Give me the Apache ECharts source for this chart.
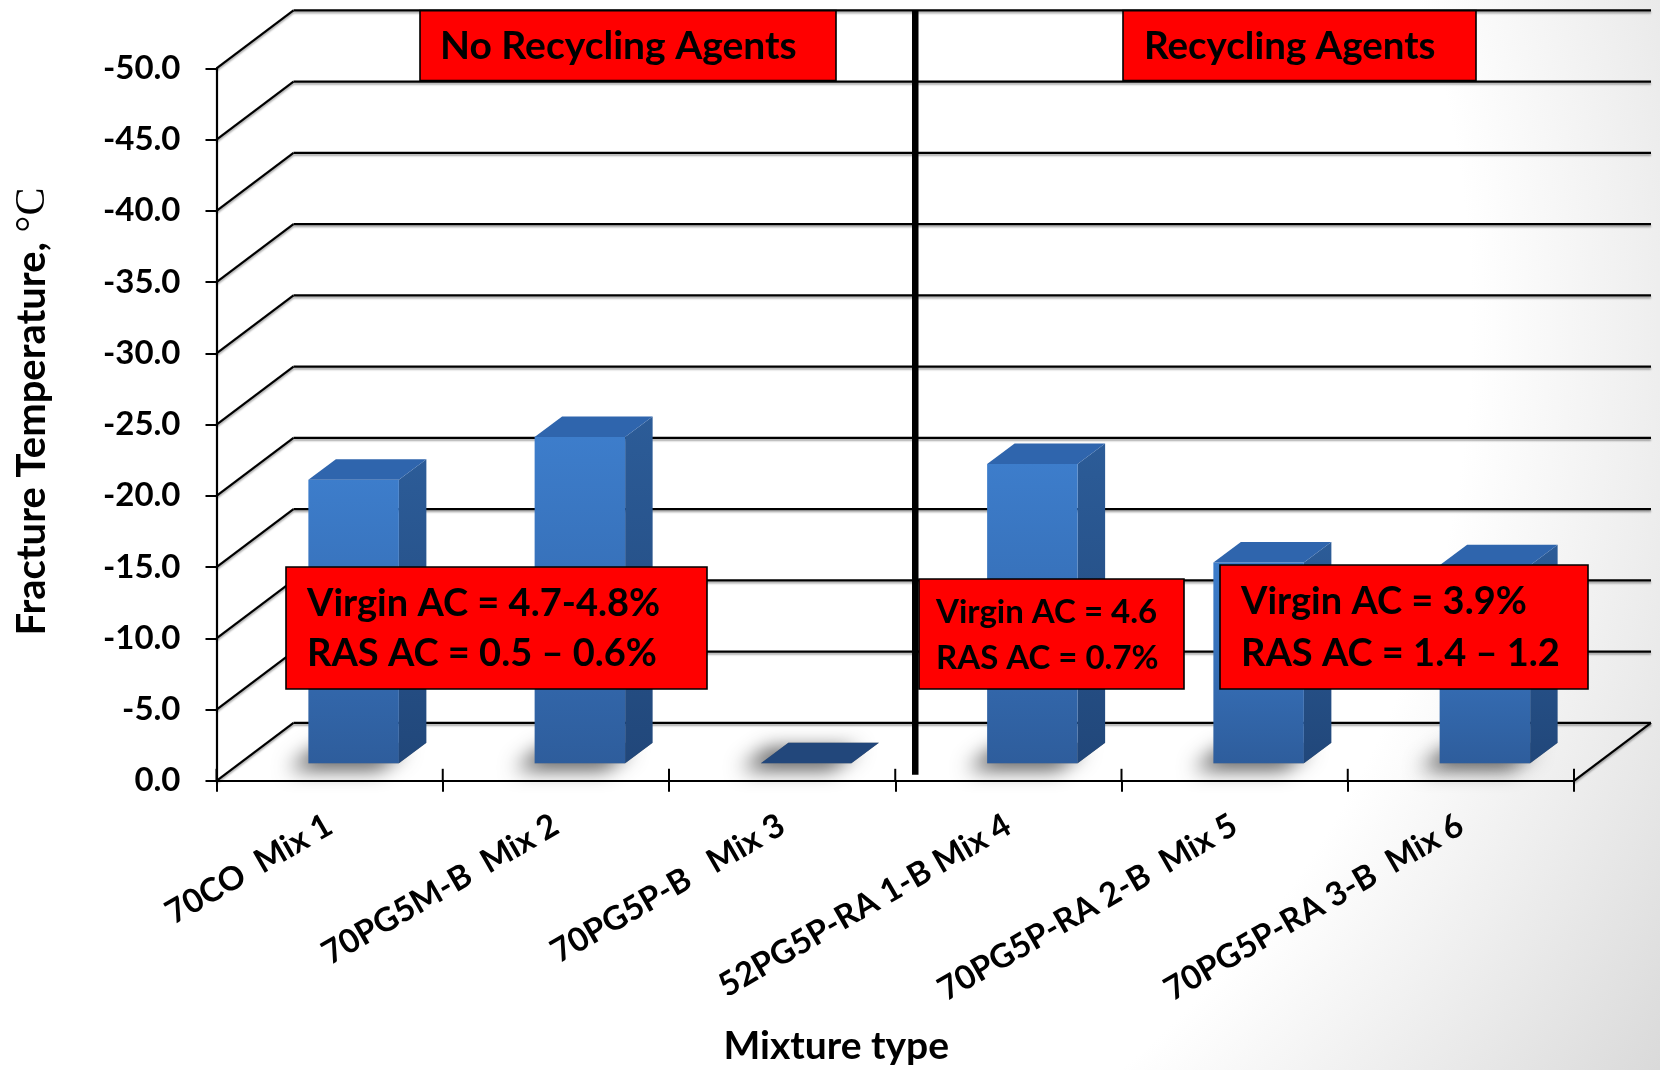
<!DOCTYPE html>
<html>
<head>
<meta charset="utf-8">
<script src="https://cdn.jsdelivr.net/npm/echarts@6/dist/echarts.min.js"></script>
<style>
  html, body { margin: 0; padding: 0; }
  #chart { width: 1660px; height: 1070px; }
</style>
</head>
<body>
<div id="chart"></div>
<script>
// Mixtures tested and their fracture temperatures (°C)
const categories = [
  '70CO  Mix 1',
  '70PG5M-B  Mix 2',
  '70PG5P-B   Mix 3',
  '52PG5P-RA 1-B Mix 4',
  '70PG5P-RA 2-B  Mix 5',
  '70PG5P-RA 3-B  Mix 6'
];
const fractureTemp = [-19.9, -22.9, 0, -21.0, -14.1, -13.9];

// Value axis ticks (also used for the wall grid lines)
const tickValues = [0, -5, -10, -15, -20, -25, -30, -35, -40, -45, -50];

// Group headers and binder-content notes
const groupLabels = ['No Recycling Agents', 'Recycling Agents'];
const noteMix12 = ['Virgin AC = 4.7-4.8%', 'RAS AC = 0.5 \u2013 0.6%'];
const noteMix4 = ['Virgin AC = 4.6', 'RAS AC = 0.7%'];
const noteMix56 = ['Virgin AC = 3.9%', 'RAS AC = 1.4 \u2013 1.2'];

// Oblique projection of the chart box
const WALL_DX = 77, WALL_DY = -58;     // back wall offset
const BAR_DX = 24, BAR_DY = -17.5;     // bar front face offset
const BAR_DEPTH_X = 27.5, BAR_DEPTH_Y = -20.5;
const BAR_FRAC = 0.4;

const FONT = 'Lato, "Open Sans", sans-serif';
const lineStyle = { stroke: '#000', lineWidth: 2.2, shadowColor: 'rgba(0,0,0,0.35)', shadowOffsetY: 2, shadowBlur: 2 };

const chart = echarts.init(document.getElementById('chart'), null, { renderer: 'canvas' });

function wallItem(params, api) {
  const cs = params.coordSys;
  const v = api.value(1);
  const y = api.coord([0, v])[1];
  const xl = cs.x, xr = cs.x + cs.width;
  const children = [
    { type: 'line', shape: { x1: xl, y1: y, x2: xl + WALL_DX, y2: y + WALL_DY }, style: lineStyle },
    { type: 'line', shape: { x1: xl + WALL_DX, y1: y + WALL_DY, x2: xr + WALL_DX, y2: y + WALL_DY }, style: lineStyle }
  ];
  if (v === 0) {
    // right edge of the floor
    children.push({ type: 'line', shape: { x1: xr, y1: y, x2: xr + WALL_DX, y2: y + WALL_DY }, style: lineStyle });
    // inner half of the category ticks
    const n = categories.length;
    for (let i = 0; i <= n; i++) {
      const x = xl + cs.width * i / n;
      children.push({ type: 'line', shape: { x1: x, y1: y, x2: x, y2: y - 12 }, style: { stroke: '#000', lineWidth: 2 } });
    }
  }
  return { type: 'group', children };
}

function barItem(params, api) {
  const idx = api.value(0);
  const val = api.value(1);
  const base = api.coord([idx, 0]);
  const top = api.coord([idx, val]);
  const bw = api.size([1, 0])[0] * BAR_FRAC;
  const x0 = base[0] - bw / 2 + BAR_DX;
  const x1 = x0 + bw;
  const yb = base[1] + BAR_DY;
  const yt = top[1] + BAR_DY;
  const dx = BAR_DEPTH_X, dy = BAR_DEPTH_Y;
  const footprint = [[x0, yb], [x1, yb], [x1 + dx, yb + dy], [x0 + dx, yb + dy]];
  const children = [];
  // soft floor shadow: the footprint itself is hidden behind the bar, only its blur shows
  children.push({
    type: 'polygon',
    shape: { points: footprint },
    style: { fill: '#777', shadowColor: 'rgba(0,0,0,0.7)', shadowBlur: 20, shadowOffsetX: -20, shadowOffsetY: 6 }
  });
  if (yb - yt > 0.5) {
    children.push({
      type: 'polygon',
      shape: { points: [[x1, yt], [x1 + dx, yt + dy], [x1 + dx, yb + dy], [x1, yb]] },
      style: { fill: { type: 'linear', x: 0, y: 0, x2: 0, y2: 1, colorStops: [{ offset: 0, color: '#2c5c98' }, { offset: 1, color: '#21477a' }] } }
    });
    children.push({
      type: 'rect',
      shape: { x: x0, y: yt, width: bw, height: yb - yt },
      style: { fill: { type: 'linear', x: 0, y: 0, x2: 0, y2: 1, colorStops: [{ offset: 0, color: '#3d7dcb' }, { offset: 0.5, color: '#366fb7' }, { offset: 1, color: '#2e5d9c' }] } }
    });
    children.push({
      type: 'polygon',
      shape: { points: [[x0, yt], [x0 + dx, yt + dy], [x1 + dx, yt + dy], [x1, yt]] },
      style: { fill: '#2f65ad' }
    });
  } else {
    children.push({
      type: 'polygon',
      shape: { points: [[x0, yt], [x0 + dx, yt + dy], [x1 + dx, yt + dy], [x1, yt]] },
      style: { fill: '#22477b' }
    });
  }
  return { type: 'group', children };
}

function dividerItem(params, api) {
  const idx = api.value(0);
  const topPt = api.coord([idx, -50]);
  const basePt = api.coord([idx, 0]);
  const bw = api.size([1, 0])[0];
  const x = topPt[0] + bw / 2 + 20;
  return {
    type: 'line',
    shape: { x1: x, y1: topPt[1] + WALL_DY, x2: x, y2: basePt[1] - 6 },
    style: { stroke: '#000', lineWidth: 6.5 }
  };
}

function noteBox(x, y, w, h, lines, size, lh, tx) {
  return [
    { type: 'rect', z: 100, shape: { x: x, y: y, width: w, height: h }, style: { fill: '#ff0000', stroke: '#000', lineWidth: 1.6 } },
    { type: 'text', z: 101, x: tx, y: y + h / 2 + 1, style: { text: lines.join('\n'), font: 'bold ' + size + 'px ' + FONT, fill: '#000', lineHeight: lh, textAlign: 'left', textVerticalAlign: 'middle' } }
  ];
}

const option = {
  backgroundColor: {
    type: 'radial', x: 0.3, y: 0.3, r: 1.3,
    colorStops: [{ offset: 0, color: '#ffffff' }, { offset: 0.7, color: '#ffffff' }, { offset: 1, color: '#d9d9d9' }]
  },
  animation: false,
  grid: { left: 216.5, top: 68.3, width: 1357.5, height: 712.5, containLabel: false, outerBoundsMode: 'none' },
  xAxis: {
    type: 'category',
    data: categories,
    name: 'Mixture type',
    nameLocation: 'middle',
    nameGap: 246,
    nameTextStyle: { fontFamily: FONT, fontWeight: 'bold', fontSize: 39, color: '#000', padding: [0, 118, 0, 0] },
    axisLine: { lineStyle: { color: '#000', width: 2.2 } },
    axisTick: { show: true, length: 11, lineStyle: { color: '#000', width: 2 } },
    axisLabel: { interval: 0, rotate: 30, margin: 42, fontFamily: FONT, fontWeight: 'bold', fontSize: 33, color: '#000' },
    splitLine: { show: false }
  },
  yAxis: {
    type: 'value',
    min: -50, max: 0, interval: 5,
    inverse: true,
    name: '{a|Fracture Temperature, }{b|\u00B0C}',
    nameLocation: 'middle',
    nameGap: 163,
    nameTextStyle: {
      padding: [0, 0, 0, 26],
      rich: {
        a: { fontFamily: FONT, fontWeight: 'bold', fontSize: 40, color: '#000' },
        b: { fontFamily: '"Liberation Serif", "DejaVu Serif", serif', fontSize: 42, color: '#000' }
      }
    },
    axisLine: { show: true, lineStyle: { color: '#000', width: 2.2 } },
    axisTick: { show: true, length: 11, lineStyle: { color: '#000', width: 2 } },
    axisLabel: { margin: 36, fontFamily: FONT, fontWeight: 'bold', fontSize: 33, color: '#000', formatter: v => v.toFixed(1) },
    splitLine: { show: false }
  },
  series: [
    {
      type: 'custom', name: 'walls', z: 1, silent: true,
      encode: { x: 0, y: 1 },
      data: tickValues.map(v => [0, v]),
      renderItem: wallItem
    },
    {
      type: 'custom', name: 'Fracture temperature', z: 3,
      encode: { x: 0, y: 1 },
      data: fractureTemp.map((v, i) => [i, v]),
      renderItem: barItem
    },
    {
      type: 'custom', name: 'divider', z: 4, silent: true,
      encode: { x: 0, y: 1 },
      data: [[2, -50]],
      renderItem: dividerItem
    }
  ],
  graphic: [
    ...noteBox(420, 10.6, 416, 70, [groupLabels[0]], 39, 44, 440),
    ...noteBox(1123, 10.6, 353, 70, [groupLabels[1]], 38.5, 44, 1144),
    ...noteBox(286, 567, 421, 122, noteMix12, 38, 50, 307),
    ...noteBox(919, 579, 265, 110, noteMix4, 33, 46, 936),
    ...noteBox(1220, 565, 368, 124, noteMix56, 38, 52, 1241)
  ]
};

chart.setOption(option);
</script>
</body>
</html>
